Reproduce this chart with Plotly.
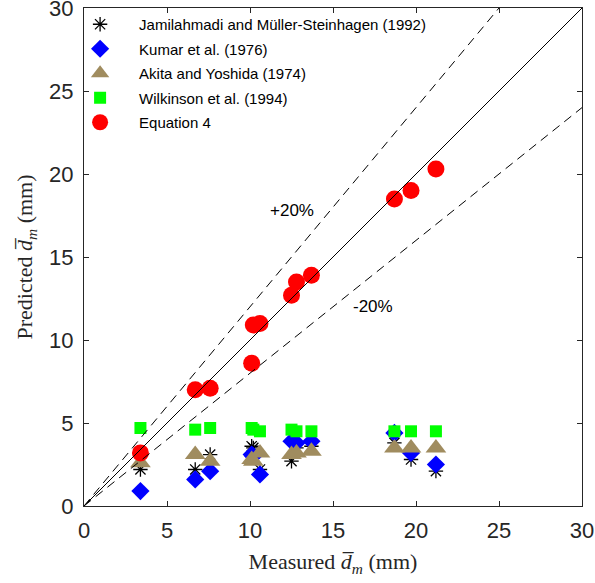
import plotly.graph_objects as go

# Measured mean drop diameter (mm)
measured = [3.4, 6.7, 7.6, 10.1, 10.2, 10.6, 12.5, 12.8, 13.7, 18.7, 19.7, 21.2]

# Predicted values (mm)
jamilahmadi = [2.2, 2.2, 3.1, 3.6, 3.5, 2.2, 2.7, 3.5, 3.6, 3.8, 2.8, 2.1]
kumar       = [0.9, 1.6, 2.1, 3.1, 3.0, 1.9, 3.9, 3.8, 3.9, 4.4, 3.2, 2.5]
akita       = [2.6, 3.1, 2.7, 2.8, 2.7, 3.2, 3.1, 3.2, 3.3, 3.5, 3.5, 3.5]
wilkinson   = [4.7, 4.6, 4.7, 4.7, 4.6, 4.5, 4.6, 4.5, 4.5, 4.5, 4.5, 4.5]
equation4   = [3.2, 7.0, 7.1, 8.6, 10.9, 11.0, 12.7, 13.5, 13.9, 18.5, 19.0, 20.3]

series_names = [
    "Jamilahmadi and Müller-Steinhagen (1992)",
    "Kumar et al. (1976)",
    "Akita and Yoshida (1974)",
    "Wilkinson et al. (1994)",
    "Equation 4",
]

ref_x = [0, 30]
plus20_x = [0, 25]
minus20_x = [0, 30]

fig = go.Figure()

fig.add_trace(go.Scatter(
    x=measured, y=jamilahmadi, mode="markers", name=series_names[0], legendgroup="a",
    marker=dict(symbol="asterisk-open", size=12, color="black", line=dict(color="black", width=1.3)),
))
fig.add_trace(go.Scatter(
    x=measured, y=kumar, mode="markers", name=series_names[1], legendgroup="b",
    marker=dict(symbol="diamond", size=14, color="#0000FF", line=dict(width=0)),
))
fig.add_trace(go.Scatter(
    x=measured, y=akita, mode="markers", name=series_names[2], legendgroup="c",
    marker=dict(symbol="triangle-up", size=18, color="#A08C5F", line=dict(width=0)),
))
fig.add_trace(go.Scatter(
    x=measured, y=wilkinson, mode="markers", name=series_names[3], legendgroup="d",
    marker=dict(symbol="square", size=12, color="#00FF00", line=dict(width=0)),
))
fig.add_trace(go.Scatter(
    x=measured, y=equation4, mode="markers", name=series_names[4], legendgroup="e",
    marker=dict(symbol="circle", size=17, color="#FF0000", line=dict(width=0)),
))

fig.add_trace(go.Scatter(
    x=ref_x, y=ref_x, mode="lines", showlegend=False, hoverinfo="skip",
    line=dict(color="black", width=1),
))
fig.add_trace(go.Scatter(
    x=plus20_x, y=[v * 1.2 for v in plus20_x], mode="lines", showlegend=False, hoverinfo="skip",
    line=dict(color="black", width=1, dash="9px,6px"),
))
fig.add_trace(go.Scatter(
    x=minus20_x, y=[v * 0.8 for v in minus20_x], mode="lines", showlegend=False, hoverinfo="skip",
    line=dict(color="black", width=1, dash="9px,6px"),
))

fig.add_annotation(x=12.5, y=17.8, text="+20%", showarrow=False,
                   font=dict(family="Liberation Sans, Arial", size=17, color="black"))
fig.add_annotation(x=17.4, y=12.0, text="-20%", showarrow=False,
                   font=dict(family="Liberation Sans, Arial", size=17, color="black"))

axis_common = dict(
    range=[0, 30], tickvals=[0, 5, 10, 15, 20, 25, 30],
    showgrid=False, zeroline=False, showline=True, linecolor="#262626", linewidth=1,
    mirror="ticks", ticks="inside", ticklen=5, tickcolor="#262626",
    ticklabeloverflow="allow", automargin=False, ticklabelstandoff=5,
    tickfont=dict(family="Liberation Sans, Arial", size=22, color="#262626"),
)

fig.update_layout(
    width=595, height=583,
    margin=dict(l=84, r=13, t=8, b=77),
    paper_bgcolor="white", plot_bgcolor="white",
    xaxis=dict(**axis_common,
               title=dict(text="Measured <i>d̅<sub>m</sub></i> (mm)",
                          font=dict(family="Liberation Serif, DejaVu Serif", size=22, color="#262626"),
                          standoff=11)),
    yaxis=dict(**axis_common,
               title=dict(text="Predicted <i>d̅<sub>m</sub></i> (mm)",
                          font=dict(family="Liberation Serif, DejaVu Serif", size=22, color="#262626"),
                          standoff=10)),
    legend=dict(x=-0.046, y=1.0, xanchor="left", yanchor="top",
                bgcolor="rgba(255,255,255,0)", borderwidth=0,
                tracegroupgap=2, itemwidth=68,
                font=dict(family="Liberation Sans, Arial", size=15, color="black")),
    showlegend=True,
)

fig.write_html("out.html", config={"displayModeBar": False},
               post_script="document.body.style.margin='0';")
